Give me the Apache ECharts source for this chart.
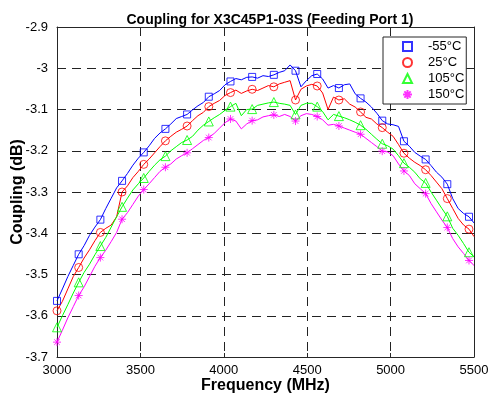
<!DOCTYPE html>
<html>
<head>
<meta charset="utf-8">
<script src="https://cdn.jsdelivr.net/npm/echarts@6/dist/echarts.min.js"></script>
<style>
html,body{margin:0;padding:0;background:#fff;}
#chart{width:490px;height:400px;}
</style>
</head>
<body>
<div id="chart"></div>
<script>
// Frequency grid (MHz)
const freq = [3000, 3032.5, 3065, 3097.5, 3130, 3162.5, 3195, 3227.5, 3260, 3292.5, 3325, 3357.5,
  3390, 3422.5, 3455, 3487.5, 3520, 3552.5, 3585, 3617.5, 3650, 3682.5, 3715, 3747.5,
  3780, 3812.5, 3845, 3877.5, 3910, 3942.5, 3975, 4007.5, 4040, 4072.5, 4105, 4137.5,
  4170, 4202.5, 4235, 4267.5, 4300, 4332.5, 4365, 4397.5, 4430, 4462.5, 4495, 4527.5,
  4560, 4592.5, 4625, 4657.5, 4690, 4722.5, 4755, 4787.5, 4820, 4852.5, 4885, 4917.5,
  4950, 4982.5, 5015, 5047.5, 5080, 5112.5, 5145, 5177.5, 5210, 5242.5, 5275, 5307.5,
  5340, 5372.5, 5405, 5437.5, 5470, 5500];

// Marker frequencies (every 4th sample)
const markerFreq = [3000, 3130, 3260, 3390, 3520, 3650, 3780, 3910, 4040, 4170,
  4300, 4430, 4560, 4690, 4820, 4950, 5080, 5210, 5340, 5470];

const tempLabels = ['-55°C', '25°C', '105°C', '150°C'];

const couplingM55 = [-3.564, -3.535, -3.505, -3.478, -3.451, -3.430, -3.405, -3.385, -3.367, -3.340, -3.315, -3.290,
  -3.273, -3.255, -3.235, -3.218, -3.204, -3.188, -3.170, -3.157, -3.147, -3.135, -3.122, -3.117,
  -3.112, -3.101, -3.091, -3.083, -3.069, -3.062, -3.054, -3.040, -3.032, -3.025, -3.028, -3.022,
  -3.021, -3.024, -3.018, -3.020, -3.016, -3.010, -3.006, -2.992, -3.006, -3.045, -3.030, -3.018,
  -3.014, -3.026, -3.048, -3.042, -3.048, -3.040, -3.038, -3.062, -3.073, -3.082, -3.094, -3.109,
  -3.127, -3.135, -3.137, -3.141, -3.177, -3.189, -3.204, -3.213, -3.221, -3.236, -3.252, -3.264,
  -3.281, -3.316, -3.340, -3.352, -3.360, -3.375];

const coupling25 = [-3.588, -3.565, -3.535, -3.505, -3.483, -3.460, -3.440, -3.418, -3.398, -3.388, -3.380, -3.360,
  -3.300, -3.285, -3.265, -3.250, -3.233, -3.220, -3.205, -3.190, -3.176, -3.165, -3.155, -3.148,
  -3.140, -3.127, -3.115, -3.107, -3.093, -3.085, -3.078, -3.066, -3.059, -3.053, -3.061, -3.055,
  -3.051, -3.054, -3.048, -3.042, -3.045, -3.038, -3.034, -3.030, -3.077, -3.051, -3.043, -3.039,
  -3.043, -3.060, -3.100, -3.070, -3.077, -3.074, -3.087, -3.094, -3.106, -3.119, -3.123, -3.135,
  -3.144, -3.155, -3.165, -3.185, -3.206, -3.218, -3.228, -3.236, -3.246, -3.260, -3.276, -3.292,
  -3.316, -3.340, -3.364, -3.380, -3.390, -3.408];

const coupling105 = [-3.628, -3.600, -3.573, -3.545, -3.519, -3.495, -3.475, -3.452, -3.431, -3.410, -3.385, -3.360,
  -3.336, -3.315, -3.295, -3.280, -3.266, -3.250, -3.235, -3.222, -3.213, -3.200, -3.190, -3.180,
  -3.174, -3.165, -3.150, -3.138, -3.129, -3.120, -3.112, -3.102, -3.093, -3.085, -3.115, -3.100,
  -3.099, -3.090, -3.087, -3.084, -3.082, -3.085, -3.087, -3.090, -3.112, -3.090, -3.085, -3.085,
  -3.093, -3.105, -3.125, -3.112, -3.116, -3.120, -3.125, -3.131, -3.138, -3.148, -3.160, -3.172,
  -3.183, -3.188, -3.196, -3.212, -3.230, -3.240, -3.252, -3.268, -3.278, -3.300, -3.320, -3.340,
  -3.359, -3.388, -3.405, -3.425, -3.446, -3.457];

const coupling150 = [-3.664, -3.635, -3.605, -3.578, -3.551, -3.530, -3.505, -3.480, -3.459, -3.441, -3.420, -3.398,
  -3.366, -3.350, -3.330, -3.310, -3.294, -3.280, -3.265, -3.250, -3.240, -3.232, -3.220, -3.212,
  -3.205, -3.195, -3.185, -3.175, -3.168, -3.158, -3.145, -3.132, -3.123, -3.128, -3.147, -3.135,
  -3.127, -3.125, -3.118, -3.115, -3.113, -3.117, -3.112, -3.117, -3.128, -3.115, -3.110, -3.112,
  -3.117, -3.125, -3.138, -3.136, -3.140, -3.145, -3.150, -3.155, -3.160, -3.170, -3.180, -3.190,
  -3.201, -3.203, -3.212, -3.232, -3.249, -3.260, -3.280, -3.292, -3.304, -3.328, -3.348, -3.368,
  -3.386, -3.413, -3.433, -3.449, -3.466, -3.478];

const seriesValues = [couplingM55, coupling25, coupling105, coupling150];
const colors = ['#0000ff', '#ff0000', '#00ff00', '#ff00ff'];
const starPath = 'path://M5,0L5,10M0,5L10,5M1.5,1.5L8.5,8.5M8.5,1.5L1.5,8.5';
const symbols = ['rect', 'circle', 'triangle', starPath];
const symbolSizes = [7, 8, 9, 8];

const FONT = '"Liberation Sans", Arial, Helvetica, sans-serif';
const AX = '#262626';

const series = [];
seriesValues.forEach((vals, s) => {
  series.push({
    name: 'line' + s,
    type: 'line',
    data: freq.map((f, i) => [f, vals[i]]),
    showSymbol: false,
    symbol: 'none',
    lineStyle: { color: colors[s], width: 1 },
    itemStyle: { color: colors[s] },
    animation: false,
    z: 2
  });
});
seriesValues.forEach((vals, s) => {
  series.push({
    name: tempLabels[s],
    type: 'scatter',
    data: markerFreq.map((f, k) => [f, vals[k * 4]]),
    symbol: symbols[s],
    symbolSize: symbolSizes[s],
    itemStyle: { color: 'rgba(0,0,0,0)', borderColor: colors[s], borderWidth: 1 },
    animation: false,
    z: 3
  });
});

const chart = echarts.init(document.getElementById('chart'), null, { renderer: 'canvas' });
chart.setOption({
  animation: false,
  backgroundColor: '#fff',
  title: {
    text: 'Coupling for X3C45P1-03S (Feeding Port 1)',
    left: 265,
    top: 8,
    textAlign: 'center',
    textStyle: { fontFamily: FONT, fontSize: 14, fontWeight: 'bold', color: '#000' }
  },
  legend: {
    data: tempLabels,
    orient: 'vertical',
    left: 383,
    top: 37,
    padding: [3, 2, 3, 19],
    itemGap: 3,
    itemWidth: 9,
    itemHeight: 9,
    backgroundColor: '#fff',
    borderColor: AX,
    borderWidth: 1,
    borderRadius: 0,
    textStyle: { fontFamily: FONT, fontSize: 13, color: '#000', lineHeight: 13, padding: [0, 0, 0, 11] }
  },
  grid: { left: 57, right: 16, top: 27, bottom: 43, containLabel: false, outerBoundsMode: 'none' },
  xAxis: [{
    type: 'value',
    min: 3000, max: 5500, interval: 500,
    name: 'Frequency (MHz)',
    nameLocation: 'middle',
    nameGap: 21,
    nameMoveOverlap: false,
    nameTextStyle: { fontFamily: FONT, fontSize: 16, fontWeight: 'bold', color: '#000' },
    axisLine: { show: true, onZero: false, lineStyle: { color: AX, width: 1 } },
    axisTick: { show: true, inside: true, length: 4, lineStyle: { color: AX } },
    axisLabel: { fontFamily: FONT, fontSize: 13, color: '#000', margin: 7, formatter: v => String(v) },
    splitLine: { show: true, lineStyle: { color: '#222', type: [9, 6], width: 1 } }
  }, {
    type: 'value',
    position: 'top',
    min: 3000, max: 5500, interval: 500,
    axisLine: { show: true, onZero: false, lineStyle: { color: AX, width: 1 } },
    axisTick: { show: true, inside: true, length: 4, lineStyle: { color: AX } },
    axisLabel: { show: false },
    splitLine: { show: false }
  }],
  yAxis: [{
    type: 'value',
    min: -3.7, max: -2.9, interval: 0.1,
    name: 'Coupling (dB)',
    nameLocation: 'middle',
    nameGap: 31,
    nameMoveOverlap: false,
    nameTextStyle: { fontFamily: FONT, fontSize: 16, fontWeight: 'bold', color: '#000' },
    axisLine: { show: true, onZero: false, lineStyle: { color: AX, width: 1 } },
    axisTick: { show: true, inside: true, length: 4, lineStyle: { color: AX } },
    axisLabel: { fontFamily: FONT, fontSize: 13, color: '#000', margin: 9 },
    splitLine: { show: true, lineStyle: { color: '#222', type: [9, 6], width: 1 } }
  }, {
    type: 'value',
    position: 'right',
    min: -3.7, max: -2.9, interval: 0.1,
    axisLine: { show: true, onZero: false, lineStyle: { color: AX, width: 1 } },
    axisTick: { show: true, inside: true, length: 4, lineStyle: { color: AX } },
    axisLabel: { show: false },
    splitLine: { show: false }
  }],
  series: series
});
</script>
</body>
</html>
